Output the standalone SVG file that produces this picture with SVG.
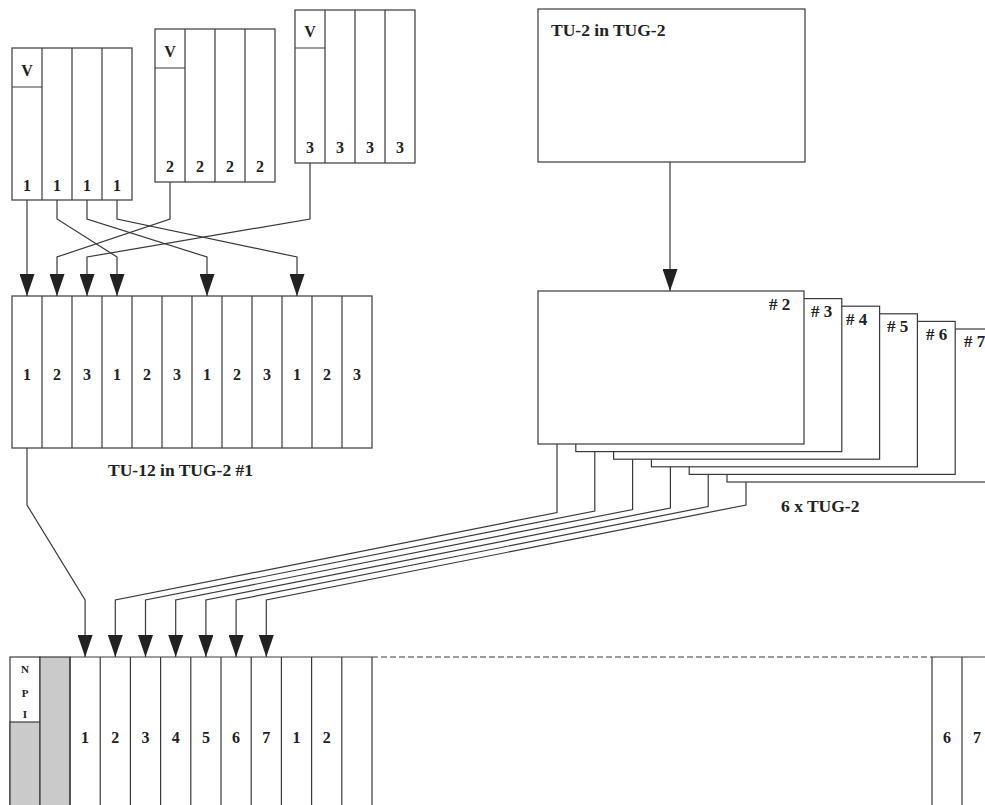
<svg xmlns="http://www.w3.org/2000/svg" width="985" height="805" viewBox="0 0 985 805">
<style>
.b{fill:#fff;stroke:#3a3a3a;stroke-width:1.2}
.l{fill:none;stroke:#3a3a3a;stroke-width:1.2}
.g{fill:#cacaca;stroke:#3a3a3a;stroke-width:1.2}
.t{font-family:"Liberation Serif","Times New Roman",serif;font-weight:bold;font-size:16px;fill:#222;text-anchor:middle}
.lb{font-family:"Liberation Serif","Times New Roman",serif;font-weight:bold;font-size:17.5px;fill:#222}
.h{font-family:"Liberation Serif","Times New Roman",serif;font-weight:bold;font-size:17px;fill:#222}
.s{font-family:"Liberation Serif","Times New Roman",serif;font-weight:bold;font-size:11px;fill:#222;text-anchor:middle}
.c{fill:none;stroke:#3a3a3a;stroke-width:1.2;marker-end:url(#ah)}
</style>
<defs>
<marker id="ah" viewBox="0 0 22 15" refX="22" refY="7.5" markerWidth="22" markerHeight="15" markerUnits="userSpaceOnUse" orient="auto"><path d="M0,0 L22,7.5 L0,15 z" fill="#222"/></marker>
</defs>
<rect width="985" height="805" fill="#fff"/>

<g id="vc1">
<rect class="b" x="12" y="48" width="120" height="152"/>
<path class="l" d="M42,48V200M72,48V200M102,48V200M12,87H42"/>
<text class="t" x="27" y="76">V</text>
<text class="t" x="27" y="191">1</text><text class="t" x="57" y="191">1</text><text class="t" x="87" y="191">1</text><text class="t" x="117" y="191">1</text>
</g>
<g id="vc2">
<rect class="b" x="155" y="29" width="120" height="153"/>
<path class="l" d="M185,29V182M215,29V182M245,29V182M155,68H185"/>
<text class="t" x="170" y="57">V</text>
<text class="t" x="170" y="172">2</text><text class="t" x="200" y="172">2</text><text class="t" x="230" y="172">2</text><text class="t" x="260" y="172">2</text>
</g>
<g id="vc3">
<rect class="b" x="295" y="10" width="120" height="153"/>
<path class="l" d="M325,10V163M355,10V163M385,10V163M295,48H325"/>
<text class="t" x="310" y="37">V</text>
<text class="t" x="310" y="153">3</text><text class="t" x="340" y="153">3</text><text class="t" x="370" y="153">3</text><text class="t" x="400" y="153">3</text>
</g>

<g id="tu12">
<rect class="b" x="12" y="296" width="360" height="152"/>
<path class="l" d="M42,296V448M72,296V448M102,296V448M132,296V448M162,296V448M192,296V448M222,296V448M252,296V448M282,296V448M312,296V448M342,296V448"/>
<text class="t" x="27" y="380">1</text><text class="t" x="57" y="380">2</text><text class="t" x="87" y="380">3</text>
<text class="t" x="117" y="380">1</text><text class="t" x="147" y="380">2</text><text class="t" x="177" y="380">3</text>
<text class="t" x="207" y="380">1</text><text class="t" x="237" y="380">2</text><text class="t" x="267" y="380">3</text>
<text class="t" x="297" y="380">1</text><text class="t" x="327" y="380">2</text><text class="t" x="357" y="380">3</text>
<text class="lb" x="108" y="476">TU-12 in TUG-2 #1</text>
</g>

<g id="tu2">
<rect class="b" x="538" y="9" width="267" height="153"/>
<text class="lb" x="551" y="36">TU-2 in TUG-2</text>
</g>

<g id="tug2stack">
<g id="tug2-7"><rect class="b" x="727" y="329" width="266" height="153"/><text class="h" x="964" y="347">#&#160;7</text></g>
<g id="tug2-6"><rect class="b" x="689.2" y="321.4" width="266" height="153"/><text class="h" x="926" y="340">#&#160;6</text></g>
<g id="tug2-5"><rect class="b" x="651.4" y="313.8" width="266" height="153"/><text class="h" x="887" y="332">#&#160;5</text></g>
<g id="tug2-4"><rect class="b" x="613.6" y="306.2" width="266" height="153"/><text class="h" x="846" y="325">#&#160;4</text></g>
<g id="tug2-3"><rect class="b" x="575.8" y="298.6" width="266" height="153"/><text class="h" x="811" y="317">#&#160;3</text></g>
<g id="tug2-2"><rect class="b" x="538" y="291" width="266" height="153"/><text class="h" x="769" y="310">#&#160;2</text></g>
<text class="lb" x="781" y="512">6 x TUG-2</text>
</g>

<g id="frame">
<rect class="b" x="10" y="657" width="30" height="160"/>
<rect class="g" x="10" y="722" width="30" height="95"/>
<rect class="g" x="40" y="657" width="30" height="160"/>
<text class="s" x="25" y="673">N</text>
<text class="s" x="25" y="697">P</text>
<text class="s" x="25" y="718">I</text>
<path class="l" d="M70,657H372M70,657V805M100.2,657V805M130.4,657V805M160.6,657V805M190.8,657V805M221,657V805M251.2,657V805M281.4,657V805M311.6,657V805M341.8,657V805M372,657V805"/>
<path class="l" d="M372,657H932" stroke-dasharray="6,3"/>
<path class="l" d="M932,657H985M932,657V805M962,657V805"/>
<text class="t" x="85.1" y="743">1</text><text class="t" x="115.3" y="743">2</text><text class="t" x="145.5" y="743">3</text>
<text class="t" x="175.7" y="743">4</text><text class="t" x="205.9" y="743">5</text><text class="t" x="236.1" y="743">6</text>
<text class="t" x="266.3" y="743">7</text><text class="t" x="296.5" y="743">1</text><text class="t" x="326.7" y="743">2</text>
<text class="t" x="947" y="743">6</text><text class="t" x="977" y="743">7</text>
</g>

<g id="connectors">
<path class="c" d="M27,200V296"/>
<path class="c" d="M57,200V219L117,257V296"/>
<path class="c" d="M87,200V219L207,257V296"/>
<path class="c" d="M117,200V219L297,257V296"/>
<path class="c" d="M170,182V219L57,257V296"/>
<path class="c" d="M310,163V219L87,257V296"/>
<path class="c" d="M670,162V291"/>
<path class="c" d="M27,448V505L85.1,600V657"/>
<path class="c" d="M557,444V512.5L115.3,600V657"/>
<path class="c" d="M594.8,451.6V511L145.5,600V657"/>
<path class="c" d="M632.6,459.2V509.5L175.7,600V657"/>
<path class="c" d="M670.4,466.8V508L205.9,600V657"/>
<path class="c" d="M708.2,474.4V506.5L236.1,600V657"/>
<path class="c" d="M746,482V505L266.3,600V657"/>
</g>
</svg>
